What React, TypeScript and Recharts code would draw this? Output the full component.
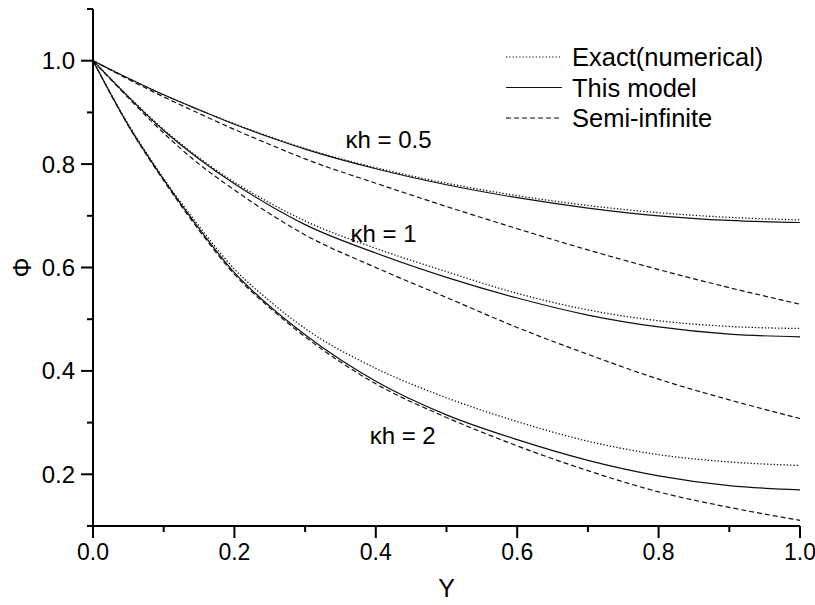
import React from 'react';
import { LineChart, Line, XAxis, YAxis, Legend, ReferenceDot } from 'recharts';

// dimensionless position across the channel
const yPos = [0, 0.05, 0.1, 0.15, 0.2, 0.25, 0.3, 0.4, 0.5, 0.6, 0.7, 0.8, 0.9, 1.0];

// kh = 0.5
const exact05 = [1.0, 0.966, 0.934, 0.905, 0.878, 0.853, 0.83, 0.793, 0.763, 0.739, 0.72, 0.706, 0.697, 0.692];
const model05 = [1.0, 0.966, 0.934, 0.905, 0.877, 0.852, 0.829, 0.791, 0.76, 0.735, 0.715, 0.7, 0.691, 0.687];
const semi05 = [1.0, 0.964, 0.93, 0.898, 0.867, 0.838, 0.81, 0.763, 0.718, 0.675, 0.634, 0.596, 0.561, 0.529];

// kh = 1
const exact1 = [1.0, 0.931, 0.867, 0.812, 0.765, 0.725, 0.69, 0.637, 0.592, 0.55, 0.518, 0.497, 0.486, 0.482];
const model1 = [1.0, 0.93, 0.865, 0.81, 0.762, 0.72, 0.683, 0.628, 0.581, 0.541, 0.508, 0.485, 0.471, 0.466];
const semi1 = [1.0, 0.928, 0.86, 0.8, 0.75, 0.704, 0.663, 0.6, 0.542, 0.484, 0.432, 0.384, 0.344, 0.308];

// kh = 2
const exact2 = [1.0, 0.877, 0.772, 0.68, 0.597, 0.535, 0.482, 0.405, 0.348, 0.302, 0.264, 0.238, 0.224, 0.217];
const model2 = [1.0, 0.875, 0.77, 0.675, 0.59, 0.525, 0.47, 0.38, 0.315, 0.267, 0.227, 0.197, 0.178, 0.17];
const semi2 = [1.0, 0.874, 0.768, 0.672, 0.587, 0.522, 0.466, 0.375, 0.31, 0.255, 0.207, 0.166, 0.136, 0.111];

const xTicks = [0, 0.1, 0.2, 0.3, 0.4, 0.5, 0.6, 0.7, 0.8, 0.9, 1.0];
const yTicks = [0.1, 0.2, 0.3, 0.4, 0.5, 0.6, 0.7, 0.8, 0.9, 1.0, 1.1];

const legendNames = ['Exact(numerical)', 'This model', 'Semi-infinite'];
const curveLabels = ['κh = 0.5', 'κh = 1', 'κh = 2'];
const labelX = [0.418, 0.411, 0.438];
const labelY = [0.848, 0.666, 0.276];

const FONT = '"Liberation Sans", Arial, sans-serif';
const dashes = ['1.3 2', undefined, '5 3'];

const data = yPos.map((y, i) => ({
  y,
  exact05: exact05[i], model05: model05[i], semi05: semi05[i],
  exact1: exact1[i], model1: model1[i], semi1: semi1[i],
  exact2: exact2[i], model2: model2[i], semi2: semi2[i],
}));

const isMajor = (v: number) => Math.round(v * 10) % 2 === 0;

const XTick = (props: any) => {
  const { x, y, payload } = props;
  const v = payload.value;
  const major = isMajor(v);
  return (
    <g>
      <line x1={x} x2={x} y1={y} y2={y + (major ? 12 : 6)} stroke="#000" strokeWidth={2} />
      {major && (
        <text x={x} y={y + 34} textAnchor="middle" fontSize={23} fontFamily={FONT} fill="#000">
          {v.toFixed(1)}
        </text>
      )}
    </g>
  );
};

const YTick = (props: any) => {
  const { x, y, payload } = props;
  const v = payload.value;
  const major = isMajor(v) && v > 0.15 && v < 1.05;
  return (
    <g>
      <line x1={x - (major ? 12 : 6)} x2={x} y1={y} y2={y} stroke="#000" strokeWidth={2} />
      {major && (
        <text x={x - 18} y={y + 8.5} textAnchor="end" fontSize={24} fontFamily={FONT} fill="#000">
          {v.toFixed(1)}
        </text>
      )}
    </g>
  );
};

const XTitle = (props: any) => {
  const { viewBox } = props;
  const cx = viewBox.x + viewBox.width / 2;
  return (
    <text x={cx} y={597} textAnchor="middle" fontSize={25} fontFamily={FONT} fill="#000">Y</text>
  );
};

const YTitle = (props: any) => {
  const { viewBox } = props;
  const cy = viewBox.y + viewBox.height / 2;
  return (
    <text
      x={22}
      y={cy}
      transform={`rotate(-90 22 ${cy})`}
      textAnchor="middle"
      dominantBaseline="central"
      fontSize={25}
      fontFamily={FONT}
      fill="#000"
    >
      Φ
    </text>
  );
};

const renderLegend = () => (
  <svg width={310} height={100}>
    {legendNames.map((name, i) => (
      <g key={name}>
        <line x1={6} x2={62} y1={17 + i * 30.5} y2={17 + i * 30.5} stroke="#111" strokeWidth={1.2} strokeDasharray={dashes[i]} />
        <text x={72} y={17 + i * 30.5 + 9} fontSize={25.5} fontFamily={FONT} fill="#000">{name}</text>
      </g>
    ))}
  </svg>
);

const series = [
  ['exact05', 0], ['model05', 1], ['semi05', 2],
  ['exact1', 0], ['model1', 1], ['semi1', 2],
  ['exact2', 0], ['model2', 1], ['semi2', 2],
] as const;

export default function App() {
  return (
    <div style={{ position: 'absolute', left: 0, top: 0, width: 815, height: 605, background: '#fff' }}>
      <LineChart width={815} height={605} data={data} margin={{ top: 9, right: 15, bottom: 0, left: 0 }}>
        <XAxis
          dataKey="y"
          type="number"
          domain={[0, 1]}
          ticks={xTicks}
          interval={0}
          tick={<XTick />}
          tickLine={false}
          tickSize={0}
          tickMargin={0}
          axisLine={{ stroke: '#000', strokeWidth: 2 }}
          height={79}
          label={<XTitle />}
        />
        <YAxis
          type="number"
          domain={[0.1, 1.1]}
          ticks={yTicks}
          interval={0}
          tick={<YTick />}
          tickLine={false}
          tickSize={0}
          tickMargin={0}
          axisLine={{ stroke: '#000', strokeWidth: 2 }}
          width={93}
          label={<YTitle />}
        />
        <Legend
          content={renderLegend}
          layout="vertical"
          align="center"
          verticalAlign="middle"
          wrapperStyle={{ position: 'absolute', left: 500, top: 40, width: 310, height: 100 }}
        />
        {series.map(([key, style]) => (
          <Line
            key={key}
            dataKey={key}
            type="monotone"
            stroke="#111"
            strokeWidth={style === 0 ? 1.3 : 1.2}
            strokeDasharray={dashes[style]}
            dot={false}
            isAnimationActive={false}
          />
        ))}
        {curveLabels.map((text, i) => (
          <ReferenceDot
            key={text}
            x={labelX[i]}
            y={labelY[i]}
            r={0}
            fill="none"
            stroke="none"
            label={{ value: text, position: 'center', fontSize: 24, fontFamily: FONT, fill: '#000' }}
          />
        ))}
      </LineChart>
    </div>
  );
}
